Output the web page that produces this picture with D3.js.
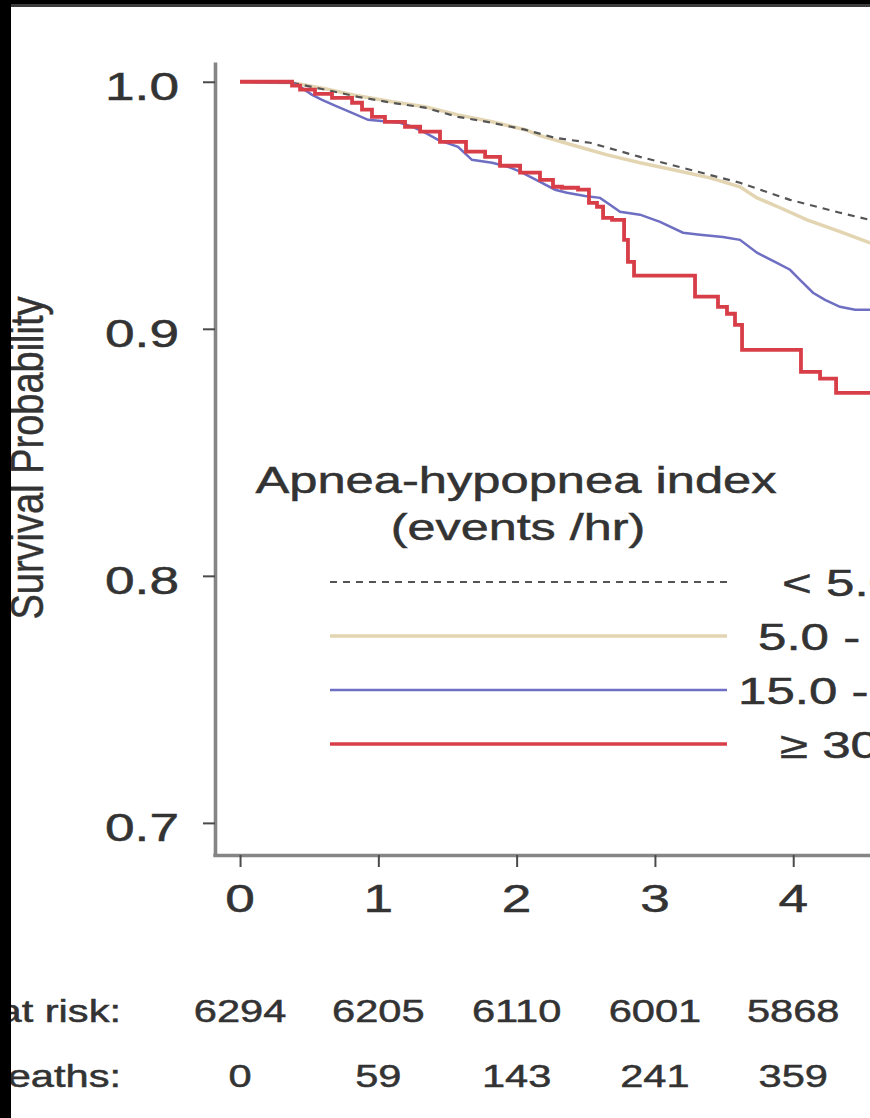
<!DOCTYPE html>
<html>
<head>
<meta charset="utf-8">
<script src="https://cdn.jsdelivr.net/npm/d3@7/dist/d3.min.js"></script>
<style>
  html, body { margin: 0; padding: 0; background: #fff; overflow: hidden; }
  svg { display: block; font-family: "Liberation Sans", Arial, sans-serif; }
</style>
</head>
<body>
<svg id="chart" width="870" height="1118"></svg>
<script>
// ---------------- data ----------------
const yearTicks = [0, 1, 2, 3, 4, 5, 6];
const yearTickLabels = ["0", "1", "2", "3", "4"];
const survTicks = [0.7, 0.8, 0.9, 1.0];
const yTickLabels = ["0.7", "0.8", "0.9", "1.0"];
const legendTitle = ["Apnea-hypopnea index", "(events /hr)"];
const groupLabels = ["< 5.0", "5.0 - 14.9", "15.0 - 29.9", "\u2265 30.0"];

// AHI < 5.0
const g1Time = [0, 0.376, 0.615, 0.853, 1.099, 1.338, 1.576, 1.822, 2.061, 2.278, 2.531, 2.892, 3.254, 3.615, 3.977, 4.338, 4.555, 4.7];
const g1Surv = [1.0, 0.9996, 0.9968, 0.9939, 0.9915, 0.9895, 0.9858, 0.9834, 0.9806, 0.9773, 0.9753, 0.9696, 0.9644, 0.9591, 0.9522, 0.9470, 0.9441, 0.9425];
// AHI 5.0 - 14.9
const g2Time = [0, 0.376, 0.615, 0.853, 1.099, 1.338, 1.576, 1.822, 2.061, 2.169, 2.422, 2.654, 2.892, 3.131, 3.398, 3.615, 3.738, 3.905, 4.100, 4.338, 4.555, 4.7];
const g2Surv = [1.0, 0.9996, 0.9972, 0.9943, 0.9919, 0.9899, 0.9866, 0.9838, 0.9806, 0.9782, 0.9741, 0.9704, 0.9672, 0.9644, 0.9611, 0.9575, 0.9530, 0.9490, 0.9441, 0.9393, 0.9348, 0.9330];
// AHI 15.0 - 29.9
const g3Time = [0, 0.376, 0.434, 0.521, 0.593, 0.687, 0.810, 0.926, 1.157, 1.244, 1.338, 1.432, 1.576, 1.677, 1.822, 1.938, 2.025, 2.169, 2.278, 2.364, 2.495, 2.603, 2.675, 2.748, 2.892, 3.037, 3.203, 3.326, 3.492, 3.615, 3.738, 3.868, 3.977, 4.049, 4.143, 4.230, 4.338, 4.447, 4.7];
const g3Surv = [1.0, 0.9996, 0.9980, 0.9947, 0.9927, 0.9903, 0.9874, 0.9846, 0.9834, 0.9818, 0.9794, 0.9765, 0.9737, 0.9684, 0.9672, 0.9656, 0.9636, 0.9595, 0.9563, 0.9551, 0.9538, 0.9530, 0.9502, 0.9474, 0.9462, 0.9433, 0.9389, 0.9381, 0.9372, 0.9360, 0.9308, 0.9271, 0.9239, 0.9198, 0.9146, 0.9117, 0.9089, 0.9077, 0.9077];
// AHI >= 30.0 (step function)
const g4Time = [0, 0.376, 0.434, 0.542, 0.665, 0.810, 0.882, 0.954, 1.048, 1.193, 1.302, 1.446, 1.634, 1.772, 1.880, 2.025, 2.169, 2.263, 2.328, 2.444, 2.523, 2.581, 2.625, 2.690, 2.777, 2.805, 2.849, 3.290, 3.456, 3.521, 3.579, 3.630, 4.056, 4.194, 4.310, 4.7];
const g4Surv = [1.0, 0.9984, 0.9968, 0.9951, 0.9935, 0.9915, 0.9887, 0.9858, 0.9838, 0.9818, 0.9798, 0.9757, 0.9717, 0.9696, 0.9660, 0.9632, 0.9603, 0.9575, 0.9571, 0.9563, 0.9510, 0.9494, 0.9449, 0.9441, 0.9360, 0.9271, 0.9215, 0.9130, 0.9089, 0.9061, 0.9016, 0.8915, 0.8826, 0.8798, 0.8741, 0.8741];

const riskYears = [0, 1, 2, 3, 4];
const atRisk = [6294, 6205, 6110, 6001, 5868];
const deaths = [0, 59, 143, 241, 359];
const riskRowLabels = ["Number at risk:", "Deaths:"];

// ---------------- styles / layout ----------------
const seriesStyle = [
  { color: "#555555", width: 2.2, dash: "7,6", curve: d3.curveLinear },
  { color: "#e3d5b2", width: 3.5, dash: null, curve: d3.curveLinear },
  { color: "#6e6ec2", width: 2.5, dash: null, curve: d3.curveLinear },
  { color: "#d83e48", width: 3.8, dash: null, curve: d3.curveStepAfter }
];
const drawOrder = [1, 0, 2, 3];
const legendLabelX = [782, 758, 738, 780];
const textColor = "#333";
const SX = 1.38; // horizontal stretch of the original figure

const svg = d3.select("#chart");

const x = d3.scaleLinear().domain([-0.197, 7]).range([212.8, 240 + 7 * 138.3]);
const y = d3.scaleLinear().domain([0.687, 1.008]).range([855, 62]);

function stext(g, str, tx, ty, size, anchor, sx) {
  return g.append("text")
    .attr("transform", `translate(${tx},${ty}) scale(${sx},1)`)
    .attr("text-anchor", anchor)
    .attr("font-size", size)
    .attr("fill", textColor)
    .attr("stroke", textColor)
    .attr("stroke-width", 0.5)
    .text(str);
}

// axes
const yAxis = svg.append("g").attr("transform", "translate(215,0)")
  .call(d3.axisLeft(y).tickValues(survTicks).tickSize(12).tickSizeOuter(0).tickFormat(""));
const xAxis = svg.append("g").attr("transform", "translate(0,855)")
  .call(d3.axisBottom(x).tickValues(yearTicks).tickSize(12).tickSizeOuter(0).tickFormat(""));
[yAxis, xAxis].forEach(a => {
  a.select(".domain").attr("stroke", "#858585").attr("stroke-width", 3.6);
  a.selectAll(".tick line").attr("stroke", "#4a4a4a").attr("stroke-width", 2);
});

// tick labels
const labG = svg.append("g");
survTicks.forEach((v, i) => stext(labG, yTickLabels[i], 179, y(v) + 18, 38, "end", 1.4));
yearTickLabels.forEach((lab, i) => stext(labG, lab, x(yearTicks[i]), 912, 38, "middle", 1.4));

// y title
svg.append("text")
  .attr("transform", "translate(43,458) scale(1.22,1) rotate(-90)")
  .attr("text-anchor", "middle").attr("font-size", 38)
  .attr("fill", textColor).attr("stroke", textColor).attr("stroke-width", 0.4)
  .text("Survival Probability");

// curves
const series = [
  { t: g1Time, s: g1Surv }, { t: g2Time, s: g2Surv },
  { t: g3Time, s: g3Surv }, { t: g4Time, s: g4Surv }
];
const curveG = svg.append("g");
drawOrder.forEach(k => {
  const st = seriesStyle[k];
  const pts = series[k].t.map((t, i) => [t, series[k].s[i]]);
  const line = d3.line().x(d => x(d[0])).y(d => y(d[1])).curve(st.curve);
  curveG.append("path").datum(pts)
    .attr("d", line).attr("fill", "none")
    .attr("stroke", st.color).attr("stroke-width", st.width)
    .attr("stroke-dasharray", st.dash)
    .attr("stroke-linejoin", "miter");
});

// legend
const legG = svg.append("g");
stext(legG, legendTitle[0], 516, 493, 37, "middle", 1.37);
stext(legG, legendTitle[1], 518, 540, 37, "middle", 1.36);
groupLabels.forEach((lab, i) => {
  const ly = 582 + i * 54;
  const st = seriesStyle[i];
  legG.append("line").attr("x1", 330).attr("x2", 727).attr("y1", ly).attr("y2", ly)
    .attr("stroke", st.color).attr("stroke-width", i === 3 ? 3.5 : st.width).attr("stroke-dasharray", st.dash);
  stext(legG, lab, legendLabelX[i], ly + 14, 37, "start", SX);
});

// risk table
const riskG = svg.append("g");
stext(riskG, riskRowLabels[0], 121, 1022, 32, "end", 1.3);
stext(riskG, riskRowLabels[1], 121, 1087, 32, "end", 1.3);
riskYears.forEach((t, i) => {
  stext(riskG, String(atRisk[i]), x(t), 1022, 32, "middle", 1.3);
  stext(riskG, String(deaths[i]), x(t), 1087, 32, "middle", 1.3);
});

// black frame of the scanned figure
svg.append("rect").attr("x", 0).attr("y", 0).attr("width", 870).attr("height", 4).attr("fill", "#000");
svg.append("rect").attr("x", 11).attr("y", 4).attr("width", 859).attr("height", 3).attr("fill", "#3c3c3c");
svg.append("rect").attr("x", 0).attr("y", 0).attr("width", 11).attr("height", 1118).attr("fill", "#000");
</script>
</body>
</html>
